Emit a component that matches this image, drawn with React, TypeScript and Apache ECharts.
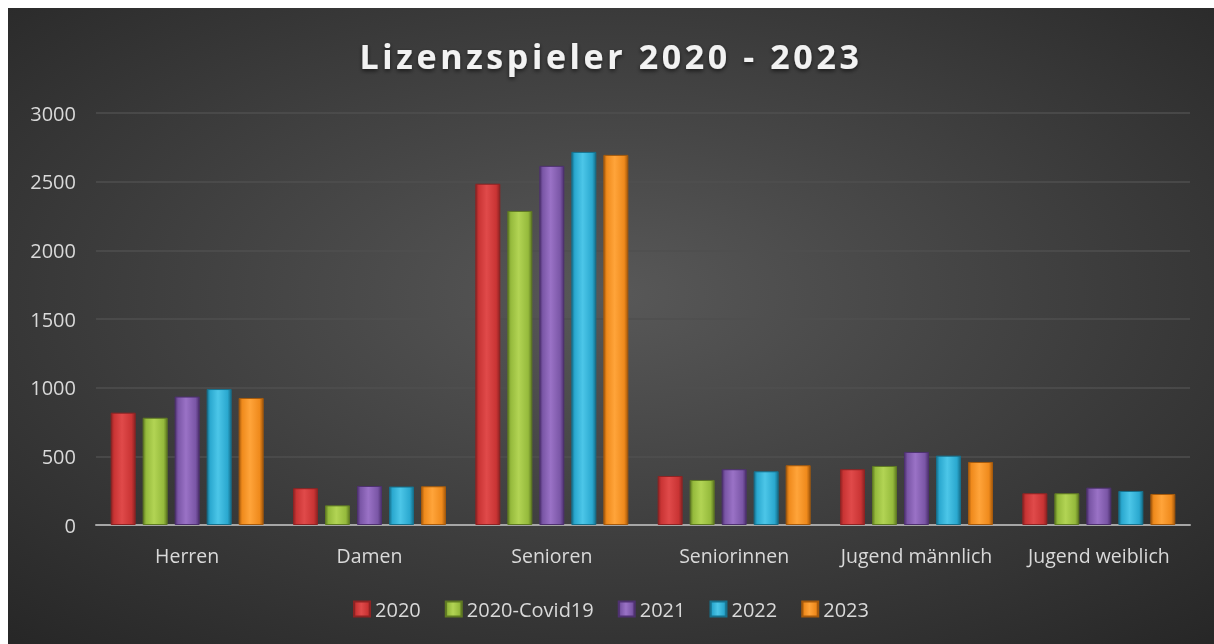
import React, { useEffect, useRef } from "react";
import * as echarts from "echarts";

const titleText = "Lizenzspieler 2020 - 2023";
const categories = ["Herren", "Damen", "Senioren", "Seniorinnen", "Jugend männlich", "Jugend weiblich"];
const seriesNames = ["2020", "2020-Covid19", "2021", "2022", "2023"];
const v2020 = [818, 268, 2485, 357, 406, 231];
const vCovid = [781, 143, 2287, 328, 430, 231];
const v2021 = [935, 284, 2615, 406, 532, 272];
const v2022 = [990, 280, 2717, 391, 505, 248];
const v2023 = [925, 282, 2695, 435, 459, 226];
const yTicks = { min: 0, max: 3000, interval: 500 };

const baseColors = [
  ["#8e2323", "#e04a4a", "#c93434"],
  ["#5f7a22", "#b2d454", "#95ba3c"],
  ["#4e3170", "#9a72c6", "#7a56a6"],
  ["#16708c", "#4cc6e8", "#2aa8cf"],
  ["#a65a0c", "#ffa43a", "#ef8a1c"],
];

function barGradient(c: string[]) {
  return new echarts.graphic.LinearGradient(0, 0, 1, 0, [
    { offset: 0, color: c[0] },
    { offset: 0.12, color: c[2] },
    { offset: 0.45, color: c[1] },
    { offset: 0.85, color: c[2] },
    { offset: 1, color: c[0] },
  ]);
}

export default function App() {
  const ref = useRef<HTMLDivElement>(null);
  useEffect(() => {
    if (!ref.current) return;
    const chart = echarts.init(ref.current, undefined, { renderer: "svg" });
    const data = [v2020, vCovid, v2021, v2022, v2023];
    const font = "'Open Sans', 'Noto Sans', sans-serif";
    chart.setOption({
      animation: false,
      backgroundColor: {
        type: "radial",
        x: 0.5,
        y: 0.45,
        r: 0.75,
        colorStops: [
          { offset: 0, color: "#585858" },
          { offset: 1, color: "#262626" },
        ],
      },
      title: {
        text: titleText,
        left: "center",
        top: 26,
        textStyle: {
          color: "#f2f2f2",
          fontFamily: font,
          fontWeight: "bold",
          fontSize: 34,
          textShadowColor: "rgba(0,0,0,0.6)",
          textShadowBlur: 4,
          textShadowOffsetY: 2,
        },
      },
      legend: {
        bottom: 20,
        left: "center",
        itemWidth: 16,
        itemHeight: 15,
        itemGap: 24,
        icon: "rect",
        textStyle: { color: "#d9d9d9", fontFamily: font, fontSize: 20 },
        data: seriesNames,
      },
      grid: { left: 88, right: 24, top: 105, bottom: 119, containLabel: false },
      xAxis: {
        type: "category",
        data: categories,
        axisLine: { show: true, lineStyle: { color: "#a6a6a6", width: 2 } },
        axisTick: { show: false },
        axisLabel: {
          color: "#d9d9d9",
          fontFamily: font,
          fontSize: 19.5,
          margin: 20,
          interval: 0,
          hideOverlap: false,
        },
      },
      yAxis: {
        type: "value",
        min: yTicks.min,
        max: yTicks.max,
        interval: yTicks.interval,
        axisLine: { show: false },
        axisTick: { show: false },
        axisLabel: {
          color: "#d9d9d9",
          fontFamily: font,
          fontSize: 20,
          margin: 20,
          formatter: (v: number) => String(v),
        },
        splitLine: { lineStyle: { color: "#4f4f4f", width: 1.5 } },
      },
      series: seriesNames.map((name, i) => ({
        name,
        type: "bar",
        data: data[i],
        barWidth: 25,
        barGap: "28%",
        itemStyle: {
          color: barGradient(baseColors[i]),
          borderColor: baseColors[i][0],
          borderWidth: 1,
        },
      })),
    });
    const texts = ref.current.querySelectorAll("text");
    texts.forEach((t) => {
      if (t.textContent === titleText) {
        t.setAttribute("letter-spacing", "3.6");
      }
    });
    return () => chart.dispose();
  }, []);
  return (
    <div
      ref={ref}
      style={{ position: "fixed", left: 8, top: 8, width: 1206, height: 636 }}
    />
  );
}
